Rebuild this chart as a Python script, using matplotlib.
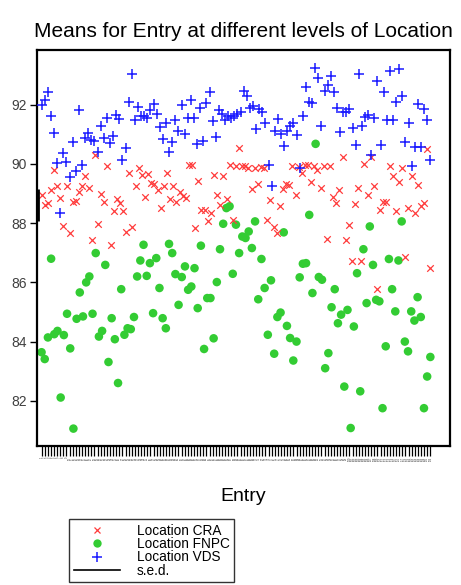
import numpy as np
import matplotlib
matplotlib.use("Agg")
import matplotlib.pyplot as plt
from matplotlib.lines import Line2D

plt.rcParams['font.family'] = ['Liberation Sans', 'DejaVu Sans']

# Means per entry, read left to right
cra = [88.96, 88.62, 88.68, 89.13, 89.80, 89.24, 88.85, 87.89, 89.24, 87.66,
       88.73, 88.76, 89.07, 89.24, 89.60, 89.19, 87.44, 90.31, 87.97, 88.99,
       88.71, 89.94, 87.27, 88.42, 88.81, 88.68, 88.42, 87.69, 89.69, 87.86,
       89.27, 89.86, 89.64, 88.88, 89.67, 89.35, 89.32, 89.13,
       88.51, 89.24, 89.69, 88.81, 89.24, 88.73, 89.07, 88.93, 88.85, 89.97,
       89.97, 87.83, 89.41, 88.45, 88.45, 88.06, 88.34, 89.64, 88.96, 88.62,
       89.60, 88.81, 89.97, 88.11, 89.94, 90.54, 89.92, 89.92, 89.86, 89.15,
       89.86, 89.33, 89.89, 89.86, 88.11, 88.77, 87.86, 87.66, 88.57, 89.15,
       89.33, 89.30, 89.92, 88.96, 89.89, 89.71, 89.97, 89.97, 89.38,
       89.94, 89.80, 89.19, 89.94, 87.46, 89.94, 88.88, 88.68, 89.13, 90.25,
       87.44, 87.95, 86.71, 88.66, 89.19, 86.71, 90.01, 88.96, 90.23, 89.26,
       85.77, 88.43, 88.70, 88.70, 89.94, 89.58, 88.40, 89.38, 89.86, 86.85,
       88.51, 89.58, 88.36, 89.30, 88.57, 88.68, 90.50, 86.48]

fnpc = [83.64, 83.41, 84.14, 86.80, 84.25, 84.36, 82.11, 84.22, 84.94, 83.77,
        81.06, 84.77, 85.66, 84.85, 86.00, 86.20, 84.94, 86.99, 84.17, 84.36,
        86.59, 83.31, 84.79, 84.08, 82.60, 85.77, 84.23, 84.45, 84.42, 84.83,
        86.20, 86.74, 87.27, 86.22, 86.65, 84.96, 86.82, 85.81,
        84.79, 84.45, 87.30, 86.99, 86.28, 85.24, 86.18, 86.54, 85.75, 85.86,
        86.48, 85.13, 87.24, 83.75, 85.47, 85.47, 84.11, 86.01, 87.12, 87.98,
        88.51, 88.57, 86.29, 87.95, 86.99, 87.55, 87.50, 87.72, 87.16, 88.06,
        85.43, 86.79, 85.81, 84.23, 86.07, 83.59, 84.83, 84.98, 87.69, 84.53,
        84.12, 83.36, 84.00, 86.17, 86.63, 86.65, 88.28, 85.64,
        90.68, 86.18, 86.09, 83.10, 83.61, 85.16, 85.77, 84.62, 84.91, 82.48,
        85.07, 81.08, 84.51, 86.31, 82.32, 87.12, 85.30, 87.89, 86.59, 85.41,
        85.36, 81.75, 83.84, 86.79, 85.77, 85.02, 86.74, 88.06, 84.00, 83.67,
        85.02, 84.71, 85.50, 84.83, 81.75, 82.82, 83.48]

vds = [92.00, 92.17, 92.43, 91.63, 91.04, 90.03, 88.33, 90.37, 90.07, 89.56,
       90.73, 89.75, 91.81, 89.97, 90.87, 91.04, 90.82, 90.76, 90.39, 91.29,
       90.87, 91.55, 90.70, 90.93, 91.66, 91.52, 90.14, 90.54, 92.08, 93.05,
       91.49, 91.94, 91.61, 91.61, 91.55, 91.83, 92.03, 91.68, 91.25,
       90.84, 91.38, 90.39, 90.73, 91.47, 91.13, 92.00, 91.02, 91.55, 92.17,
       91.57, 90.68, 91.89, 90.76, 92.06, 92.43, 91.44, 90.91, 91.81, 91.70,
       91.47, 91.63, 91.57, 91.63, 91.70, 91.77, 92.45, 92.28, 91.89, 91.97,
       91.19, 91.85, 91.74, 91.38, 89.97, 89.24, 91.10, 91.52, 91.02, 90.61,
       91.10, 91.29, 91.40, 90.99, 89.86, 91.63, 92.59, 92.11, 92.06,
       93.24, 92.90, 91.27, 92.45, 92.68, 92.98, 92.42, 91.89, 91.07, 91.74,
       91.77, 91.85, 91.21, 90.65, 93.05, 91.29, 91.58, 91.66, 90.31, 91.55,
       92.82, 90.65, 92.42, 91.47, 93.13, 91.49, 92.11, 93.20, 92.30, 90.73,
       91.40, 89.94, 90.59, 92.03, 90.59, 91.85, 91.47, 90.14]

sed_low, sed_high = 88.07, 89.14
y_ticks = [82, 84, 86, 88, 90, 92]

n_entries = max(len(cra), len(fnpc), len(vds))
entry_labels = [str(i + 1) for i in range(n_entries)]

fig = plt.figure(figsize=(4.61, 5.85), dpi=100)
ax = fig.add_axes([0.080, 0.238, 0.896, 0.677])

def spread(vals):
    # place a series across the entry positions
    return np.linspace(0, n_entries - 1, len(vals))

ax.scatter(spread(cra), cra, marker='x', s=22, color='#ff3b3b', linewidths=0.9, zorder=3)
ax.scatter(spread(fnpc), fnpc, marker='o', s=38, color='#33cc33', edgecolors='none', zorder=2)
ax.scatter(spread(vds), vds, marker='+', s=52, color='#1a1aff', linewidths=1.1, zorder=4)

# s.e.d. bar at the left edge
ax.vlines(-1.1, sed_low, sed_high, color='black', lw=2, zorder=5)

ax.set_xlim(-1.5, n_entries + 5.3)
ax.set_ylim(80.48, 93.86)
ax.set_yticks(y_ticks)
ax.set_yticklabels([str(t) for t in y_ticks], fontsize=10, color='#404040')
ax.set_xticks(range(n_entries))
ax.set_xticklabels(entry_labels, fontsize=1.8, color='#333333', rotation=90)
ax.tick_params(axis='x', length=7, width=0.9, direction='out', pad=1)
ax.tick_params(axis='y', length=5, width=1.0, direction='out', pad=2)
for side in ['left', 'bottom', 'top', 'right']:
    ax.spines[side].set_linewidth(1.6)

fig.text(0.527, 0.947, "Means for Entry at different levels of Location",
         ha='center', va='center', fontsize=15)
fig.text(0.527, 0.152, "Entry", ha='center', va='center', fontsize=14)

handles = [
    Line2D([], [], marker='x', ls='', color='#ff3b3b', markersize=5, markeredgewidth=0.9),
    Line2D([], [], marker='o', ls='', color='#33cc33', markersize=6, markeredgewidth=0),
    Line2D([], [], marker='+', ls='', color='#1a1aff', markersize=7, markeredgewidth=1.1),
    Line2D([], [], color='black', lw=1.2),
]
labels = ["Location CRA", "Location FNPC", "Location VDS", "s.e.d."]
leg = fig.legend(handles, labels, loc='upper left', bbox_to_anchor=(0.150, 0.113),
                 fontsize=9.8, frameon=True, fancybox=False, edgecolor='black',
                 labelspacing=-0.05, handlelength=3.4, handletextpad=1.2,
                 borderpad=0.35, borderaxespad=0)
leg.get_frame().set_linewidth(1.0)

fig.savefig("out.png", dpi=100)
